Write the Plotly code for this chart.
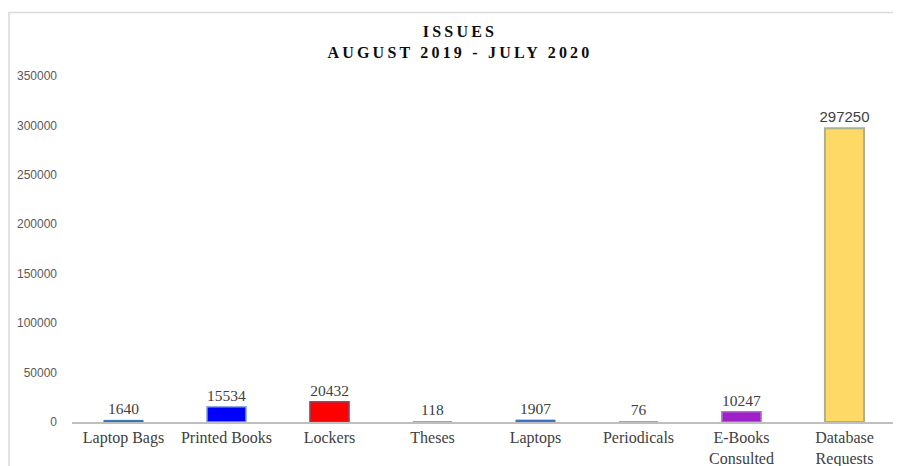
import plotly.graph_objects as go

categories = ["Laptop Bags", "Printed Books", "Lockers", "Theses", "Laptops",
              "Periodicals", "E-Books<br>Consulted", "Database<br>Requests"]
values = [1640, 15534, 20432, 118, 1907, 76, 10247, 297250]
fill_colors = ["#2E75B6", "#0000FF", "#FF0000", "#A5A5A5", "#4472C4",
               "#A5A5A5", "#A020C8", "#FFD966"]
line_colors = ["#2E75B6", "#8FAADC", "#8B4A6B", "#A5A5A5", "#4472C4",
               "#A5A5A5", "#B070D0", "#A9B18F"]
line_widths = [1, 1.5, 1.5, 0, 1, 0, 1.5, 2]
y_ticks = [0, 50000, 100000, 150000, 200000, 250000, 300000, 350000]

label_fonts = ["Liberation Serif"] * 7 + ["Liberation Sans"]
label_sizes = [15.5] * 7 + [15]

# page has an 8px body margin; figure sized/offset to compensate
W, H = 893, 458

fig = go.Figure(go.Bar(
    x=categories, y=values,
    marker=dict(color=fill_colors, line=dict(color=line_colors, width=line_widths)),
    width=0.38,
    text=[str(v) for v in values], textposition="outside",
    textfont=dict(family=label_fonts, size=label_sizes, color="#404040"),
    constraintext="none",
    cliponaxis=False,
))

fig.update_layout(
    width=W, height=H,
    margin=dict(l=64, r=5, t=68, b=44),
    paper_bgcolor="white", plot_bgcolor="white",
    showlegend=False,
    title=dict(
        text='<span style="letter-spacing:3.2px">ISSUES</span><br>'
             '<span style="letter-spacing:3.2px">AUGUST 2019 - JULY 2020</span>',
        x=(460 - 8) / W, xref="container", xanchor="center",
        y=1 - 29 / H, yref="container", yanchor="top",
        font=dict(family="Liberation Serif", size=16, color="#0d0d0d", weight="bold"),
    ),
    xaxis=dict(
        showline=True, linecolor="#BFBFBF", linewidth=2,
        ticks="", showgrid=False, automargin=False,
        tickfont=dict(family="Liberation Serif", size=16, color="#404040"),
    ),
    yaxis=dict(
        range=[0, 350000], tickvals=y_ticks, ticktext=[str(t) for t in y_ticks],
        showgrid=False, zeroline=False, showline=False, ticks="",
        tickfont=dict(family="Liberation Sans", size=12, color="#595959"),
        ticklabelstandoff=14, automargin=False,
    ),
    shapes=[dict(type="rect", xref="paper", yref="paper",
                 x0=(1 - 64) / 824, x1=1.05, y0=-0.3, y1=1 + (68 - 4.5) / 346,
                 line=dict(color="#D9D9D9", width=1.5), fillcolor="rgba(0,0,0,0)",
                 layer="below")],
)

fig.write_html("out.html")
